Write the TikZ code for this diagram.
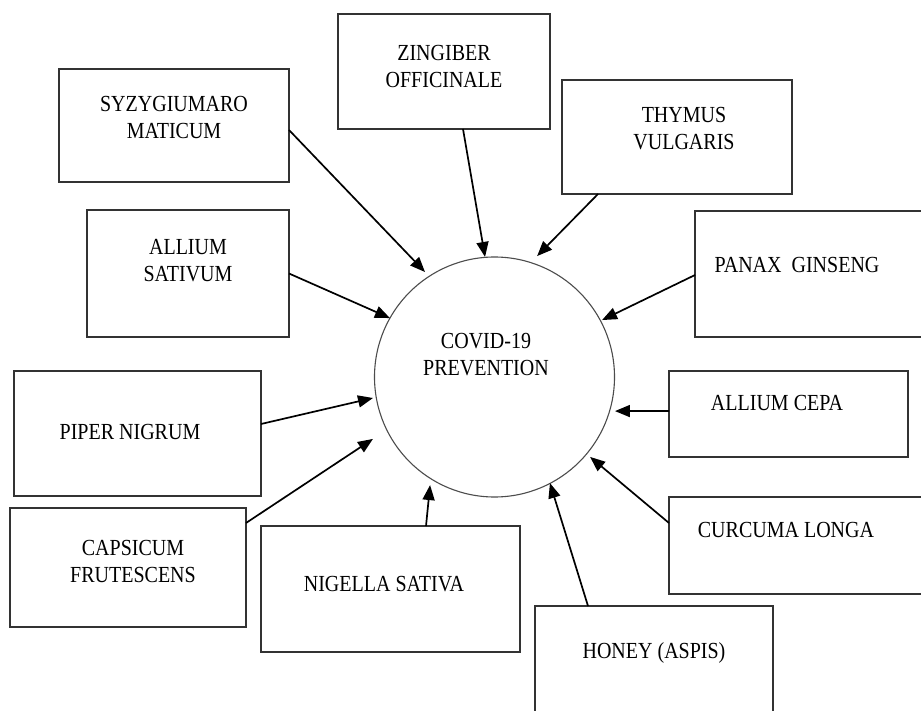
\documentclass[tikz,border=0pt]{standalone}
\usepackage{fontspec}
\setmainfont{Liberation Serif}[FakeStretch=0.87]
\usetikzlibrary{arrows.meta,calc}
\begin{document}
\begin{tikzpicture}[x=1pt,y=-1pt,
  box/.style={draw=black!80,line width=1.4pt,rectangle,inner sep=0pt,outer sep=0pt},
  lbl/.style={font=\fontsize{23}{27}\selectfont,align=center,inner sep=0pt,text=black},
  arr/.style={-{Triangle[length=15pt,width=12pt]},line width=1.7pt,black},
  hub/.style={draw=black!70,line width=1.1pt,circle,minimum size=240pt,inner sep=0pt,outer sep=0pt}]
\clip (0,0) rectangle (921,711);
\fill[white] (0,0) rectangle (921,711);

% centre
\node[hub] (c) at (494.5,377) {};
\node[lbl] (ct) at (486,355) {COVID-19\\PREVENTION};

% boxes
\node[box,minimum width=230pt,minimum height=113pt] (syz) at (174,125.5) {};
\node[box,minimum width=212pt,minimum height=115pt] (zin) at (444,71.5) {};
\node[box,minimum width=230pt,minimum height=114pt] (thy) at (677,137) {};
\node[box,minimum width=202pt,minimum height=127pt] (als) at (188,273.5) {};
\node[box,minimum width=250pt,minimum height=126pt] (pan) at (820,274) {};
\node[box,minimum width=247pt,minimum height=125pt] (pip) at (137.5,433.5) {};
\node[box,minimum width=239pt,minimum height=86pt] (cep) at (788.5,414) {};
\node[box,minimum width=236pt,minimum height=119pt] (cap) at (128,567.5) {};
\node[box,minimum width=259pt,minimum height=126pt] (nig) at (390.5,589) {};
\node[box,minimum width=276pt,minimum height=97pt] (cur) at (807,545.5) {};
\node[box,minimum width=238pt,minimum height=124pt] (hon) at (654,668) {};

% labels
\node[lbl] (syzt) at (174,117.5) {SYZYGIUMARO\\MATICUM};
\node[lbl] (zint) at (444,66.5) {ZINGIBER\\OFFICINALE};
\node[lbl] (thyt) at (684,128.5) {THYMUS\\VULGARIS};
\node[lbl] (alst) at (188,260.5) {ALLIUM\\SATIVUM};
\node[lbl] (pant) at (797,265) {PANAX\ \ GINSENG};
\node[lbl] (pipt) at (130,432) {PIPER NIGRUM};
\node[lbl] (cept) at (777,403) {ALLIUM CEPA};
\node[lbl] (capt) at (133,561) {CAPSICUM\\FRUTESCENS};
\node[lbl] (nigt) at (384,584) {NIGELLA SATIVA};
\node[lbl] (curt) at (786,530) {CURCUMA LONGA};
\node[lbl] (hont) at (654,653) {HONEY (ASPIS)};

% connectors
\draw[arr] ([yshift=-4.5pt]syz.east) -- ($(c.center)+(123.5:125.9pt)$);
\draw[arr] ([xshift=19pt]zin.south) -- ($(c.center)+(94.5:120.4pt)$);
\draw[arr] ([xshift=-79pt]thy.south) -- ($(c.center)+(70.6:128.2pt)$);
\draw[arr] (als.east) -- ($(c.center)+(150.6:120pt)$);
\draw[arr] ([yshift=-1pt]pan.west) -- ($(c.center)+(27.9:121.7pt)$);
\draw[arr] ([yshift=9.5pt]pip.east) -- ($(c.center)+(189.8:123.3pt)$);
\draw[arr] ([yshift=3pt]cep.west) -- ($(c.center)+(-15.8:125.2pt)$);
\draw[arr] ([yshift=44.5pt]cap.east) -- ($(c.center)+(207:136.4pt)$);
\draw[arr] ([xshift=35.5pt]nig.north) -- ($(c.center)+(239.2:125.8pt)$);
\draw[arr] ([yshift=22.5pt]cur.west) -- ($(c.center)+(-39.9:124.6pt)$);
\draw[arr] ([xshift=-66pt]hon.north) -- ($(c.center)+(-62.4:119.7pt)$);
\end{tikzpicture}
\end{document}
